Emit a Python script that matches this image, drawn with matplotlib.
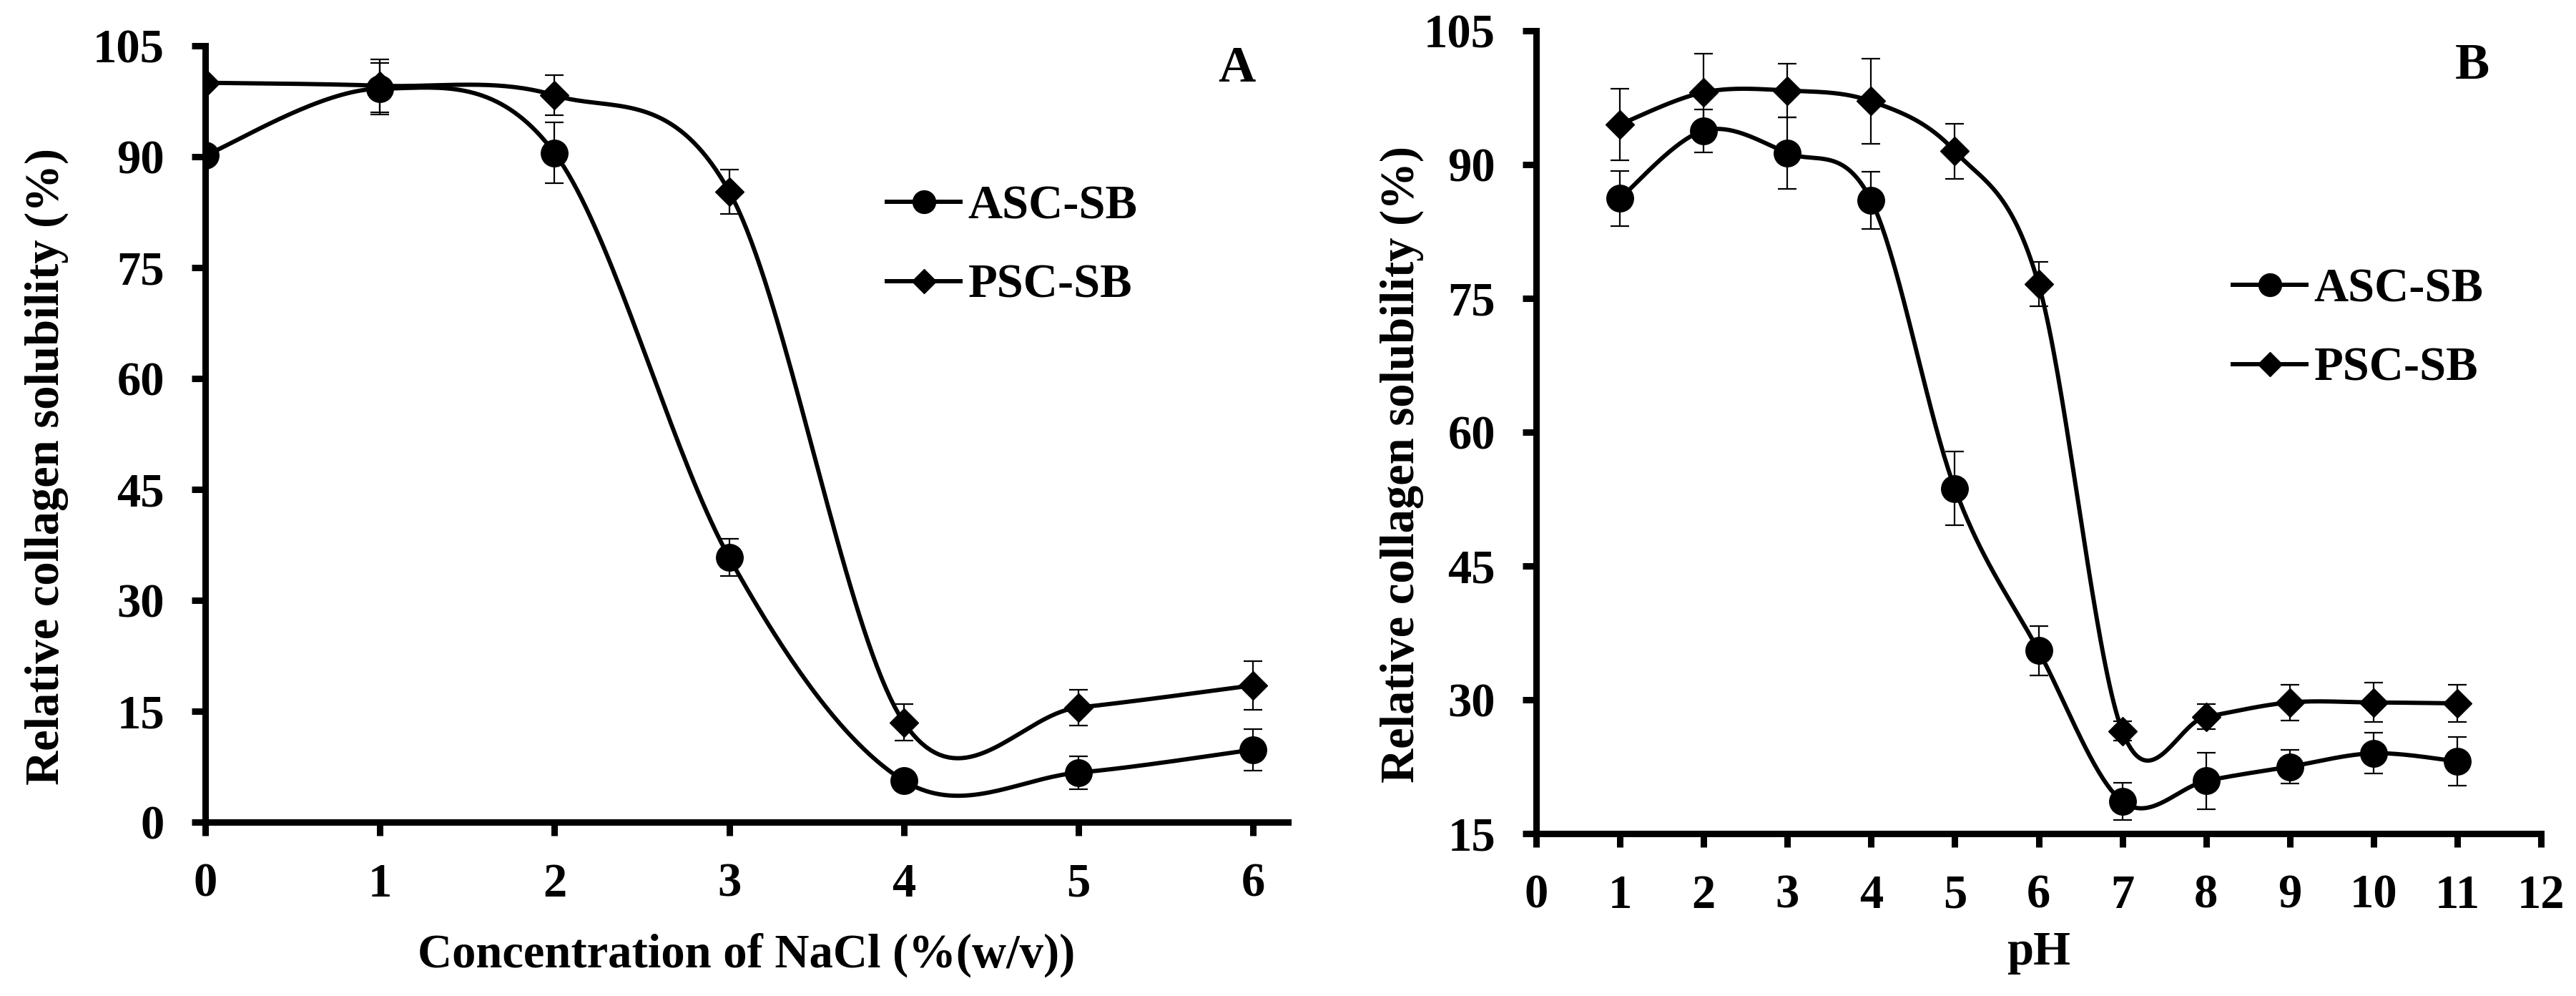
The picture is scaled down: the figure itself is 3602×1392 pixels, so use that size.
import matplotlib
matplotlib.use("Agg")
import matplotlib.pyplot as plt
import numpy as np

plt.rcParams["font.family"] = ["Liberation Serif", "DejaVu Serif"]
plt.rcParams["font.weight"] = "bold"

# panel A: NaCl concentration
nacl = [0, 1, 2, 3, 4, 5, 6]
asc_nacl = [90.2, 99.2, 90.5, 35.8, 5.6, 6.7, 9.8]
asc_nacl_err = [0.8, 3.5, 4.1, 2.5, 1.2, 2.2, 2.8]
psc_nacl = [100.0, 99.6, 98.3, 85.3, 13.5, 15.5, 18.5]
psc_nacl_err = [0.5, 3.6, 2.7, 3.0, 2.5, 2.4, 3.3]

# panel B: pH
ph = [1, 2, 3, 4, 5, 6, 7, 8, 9, 10, 11]
asc_ph = [86.2, 93.8, 91.3, 86.0, 53.7, 35.5, 18.6, 20.9, 22.5, 24.0, 23.1]
asc_ph_err = [3.1, 2.4, 4.0, 3.2, 4.1, 2.8, 2.1, 3.2, 1.9, 2.3, 2.7]
psc_ph = [94.5, 98.1, 98.3, 97.1, 91.5, 76.6, 26.5, 28.1, 29.7, 29.7, 29.6]
psc_ph_err = [4.0, 4.3, 3.0, 4.8, 3.1, 2.5, 1.1, 1.4, 2.0, 2.2, 2.1]

FS = 48
LW = 4.3


def smooth(x, y, n=40):
    # excel-like smoothed line (catmull-rom as cubic bezier)
    x = np.asarray(x, float)
    y = np.asarray(y, float)
    px = np.concatenate([[x[0]], x, [x[-1]]])
    py = np.concatenate([[y[0]], y, [y[-1]]])
    t = np.linspace(0, 1, n)[:, None]
    xs, ys = [], []
    for i in range(1, len(px) - 2):
        p0 = np.array([px[i], py[i]])
        p3 = np.array([px[i + 1], py[i + 1]])
        c1 = p0 + (np.array([px[i + 1], py[i + 1]]) - np.array([px[i - 1], py[i - 1]])) / 6
        c2 = p3 - (np.array([px[i + 2], py[i + 2]]) - np.array([px[i], py[i]])) / 6
        b = (1 - t) ** 3 * p0 + 3 * (1 - t) ** 2 * t * c1 + 3 * (1 - t) * t ** 2 * c2 + t ** 3 * p3
        xs.append(b[:, 0])
        ys.append(b[:, 1])
    return np.concatenate(xs), np.concatenate(ys)


def draw_series(ax, x, y, err, marker, ms, label):
    sx, sy = smooth(x, y)
    ax.plot(sx, sy, color="black", lw=LW, zorder=3, solid_capstyle="round")
    ax.errorbar(x, y, yerr=err, fmt="none", ecolor="black", elinewidth=1.6,
                capsize=9.5, capthick=1.6, zorder=4)
    ax.plot(x, y, linestyle="none", marker=marker, ms=ms, color="black", zorder=5)
    # legend proxy
    ax.plot([], [], color="black", lw=LW, marker=marker, ms=ms * 0.85, label=label)


def style_axis(ax):
    for side in ["top", "right"]:
        ax.spines[side].set_visible(False)
    for side in ["left", "bottom"]:
        ax.spines[side].set_linewidth(6.5)
    ax.tick_params(direction="out", length=14, width=6.5, labelsize=FS, pad=27)
    for lab in ax.get_xticklabels() + ax.get_yticklabels():
        lab.set_fontweight("bold")


W, H = 3602, 1392
fig = plt.figure(figsize=(W / 100, H / 100), dpi=100)

# ---- panel A
axA = fig.add_axes([287 / W, (H - 1149) / H, (1801 - 287) / W, (1149 - 64) / H])
draw_series(axA, nacl, asc_nacl, asc_nacl_err, "o", 27, "ASC-SB")
draw_series(axA, nacl, psc_nacl, psc_nacl_err, "D", 20, "PSC-SB")
axA.set_xlim(0, 6.2)
axA.set_ylim(0, 105)
axA.set_xticks(nacl)
axA.set_yticks(np.arange(0, 106, 15))
style_axis(axA)
axA.set_xlabel("Concentration of NaCl (%(w/v))", fontsize=FS, fontweight="bold")
axA.set_ylabel("Relative collagen solubility (%)", fontsize=FS, fontweight="bold")
axA.xaxis.set_label_coords(0.5, -0.142)
axA.yaxis.set_label_coords(-0.126, 0.458)
axA.text(1729 / W, 1 - 96 / H, "A", transform=fig.transFigure, fontsize=FS + 4,
         fontweight="bold", ha="center", va="center")
axA.legend(loc="center left", bbox_to_anchor=(1240 / W, 1 - 344 / H),
           bbox_transform=fig.transFigure, frameon=False,
           handlelength=1.55, handletextpad=0.15, labelspacing=0.75,
           borderaxespad=0, borderpad=0, prop={"weight": "bold", "size": FS})

# ---- panel B
axB = fig.add_axes([2148 / W, (H - 1165) / H, (3553 - 2148) / W, (1165 - 43) / H])
draw_series(axB, ph, asc_ph, asc_ph_err, "o", 27, "ASC-SB")
draw_series(axB, ph, psc_ph, psc_ph_err, "D", 20, "PSC-SB")
axB.set_xlim(0, 12)
axB.set_ylim(15, 105)
axB.set_xticks(range(0, 13))
axB.set_yticks(np.arange(15, 106, 15))
style_axis(axB)
axB.set_xlabel("pH", fontsize=FS, fontweight="bold")
axB.set_ylabel("Relative collagen solubility (%)", fontsize=FS, fontweight="bold")
axB.xaxis.set_label_coords(0.5, -0.121)
axB.yaxis.set_label_coords(-0.112, 0.46)
axB.text(3457 / W, 1 - 92 / H, "B", transform=fig.transFigure, fontsize=FS + 4,
         fontweight="bold", ha="center", va="center")
axB.legend(loc="center left", bbox_to_anchor=(3122 / W, 1 - 460 / H),
           bbox_transform=fig.transFigure, frameon=False,
           handlelength=1.55, handletextpad=0.15, labelspacing=0.75,
           borderaxespad=0, borderpad=0, prop={"weight": "bold", "size": FS})

fig.savefig("out.png", dpi=100)
